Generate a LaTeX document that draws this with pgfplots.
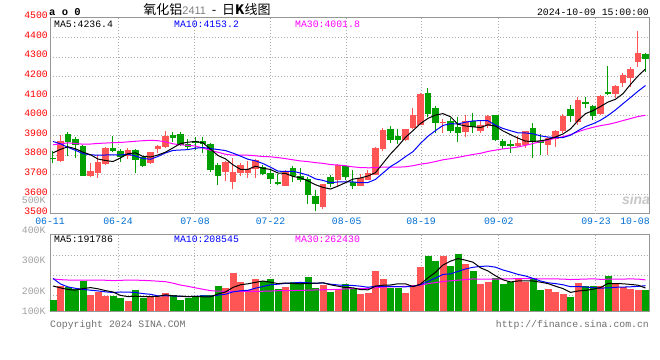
\documentclass[border=0pt]{standalone}
\usepackage{pgfplots}
\pgfplotsset{compat=1.18}
\usepackage{pgfplotstable}
\usepackage{fontspec}
\setmainfont{Liberation Mono}
\setmonofont{Liberation Mono}
\newfontfamily\cjk{Noto Sans CJK SC}
\newfontfamily\lsans{Liberation Sans}
\definecolor{upred}{RGB}{255,85,85}
\definecolor{dngreen}{RGB}{0,160,0}
\definecolor{maA}{RGB}{0,0,0}
\definecolor{maB}{RGB}{0,0,255}
\definecolor{maC}{RGB}{255,0,255}
\definecolor{gridc}{RGB}{170,170,170}
\definecolor{framec}{RGB}{150,150,150}
\definecolor{xlab}{RGB}{0,110,210}
\definecolor{vlab}{RGB}{160,160,160}
\definecolor{tickred}{RGB}{255,0,0}
\definecolor{foot}{RGB}{110,110,110}
\newcommand\monoS{\fontsize{9.8bp}{10bp}\selectfont\ttfamily}

\pgfplotstableread{
i O H L C V
0 3785 3822 3761 3781 88.3
1 3774 3903 3766 3872 208.0
2 3908 3918 3797 3872 199.4
3 3882 3894 3786 3853 182.3
4 3846 3851 3697 3697 250.7
5 3697 3761 3689 3718 131.1
6 3714 3800 3682 3761 156.7
7 3756 3843 3749 3836 122.5
8 3836 3897 3817 3826 122.5
9 3820 3831 3766 3791 105.4
10 3800 3838 3779 3826 79.8
11 3826 3831 3709 3780 173.8
12 3786 3791 3740 3745 105.4
13 3761 3817 3757 3812 122.5
14 3832 3851 3809 3843 114.0
15 3843 3925 3836 3897 148.1
16 3903 3916 3865 3889 131.1
17 3908 3920 3848 3856 88.3
18 3853 3885 3834 3846 105.4
19 3872 3891 3826 3863 122.5
20 3872 3891 3809 3860 131.1
21 3856 3863 3715 3728 131.1
22 3749 3761 3646 3694 208.0
23 3718 3771 3667 3761 190.9
24 3667 3788 3626 3711 319.1
25 3714 3762 3692 3745 242.2
26 3711 3771 3685 3728 173.8
27 3732 3783 3685 3774 267.8
28 3735 3749 3697 3709 250.7
29 3709 3723 3651 3679 267.8
30 3663 3706 3646 3655 182.3
31 3646 3723 3643 3718 199.4
32 3732 3744 3663 3697 242.2
33 3692 3737 3663 3675 242.2
34 3677 3689 3549 3600 284.9
35 3590 3621 3515 3556 190.9
36 3538 3655 3526 3651 216.5
37 3684 3697 3638 3655 156.7
38 3677 3754 3638 3749 182.3
39 3740 3749 3675 3689 225.1
40 3663 3723 3629 3646 182.3
41 3646 3706 3646 3680 139.6
42 3675 3726 3672 3706 148.1
43 3703 3843 3697 3834 336.2
44 3834 3937 3822 3928 267.8
45 3932 3949 3860 3882 190.9
46 3897 3932 3855 3882 190.9
47 3880 3935 3873 3930 148.1
48 3940 4039 3932 4005 216.5
49 3957 4116 3954 4108 370.4
50 4113 4142 3993 4014 464.4
51 4039 4051 3915 3966 421.7
52 3966 3983 3915 3968 464.4
53 3971 3988 3915 3925 378.9
54 3940 3997 3868 3915 481.5
55 3920 4005 3891 3971 396.0
56 3971 4014 3911 3945 336.2
57 3925 3976 3915 3949 225.1
58 3949 4005 3937 3997 242.2
59 4000 4005 3873 3880 276.4
60 3872 3885 3834 3848 225.1
61 3855 3877 3812 3850 242.2
62 3848 3897 3843 3860 267.8
63 3855 3925 3839 3920 242.2
64 3937 3962 3786 3872 276.4
65 3872 3908 3800 3865 173.8
66 3855 3894 3803 3885 182.3
67 3885 3928 3843 3923 156.7
68 3928 4009 3911 3997 139.6
69 4031 4056 3971 4000 114.0
70 3974 4099 3954 4077 233.6
71 4070 4099 4039 4063 208.0
72 4048 4056 3979 4000 208.0
73 4014 4108 4005 4102 208.0
74 4121 4253 4108 4113 293.4
75 4116 4159 4091 4149 225.1
76 4173 4219 4150 4205 199.4
77 4198 4248 4150 4236 182.3
78 4279 4432 4248 4318 173.8
79 4313 4321 4227 4291 173.8
}\kdata

\pgfplotstableread{
i ma5 ma10 ma30
0 3812 3870 3853
1 3830 3858 3858
2 3843 3840 3863
3 3833 3825 3860
4 3815.4 3808 3856
5 3802.4 3802 3857
6 3780.2 3800 3860
7 3773.0 3801 3862
8 3767.6 3802 3864
9 3786.4 3800.9 3865
10 3808.0 3805.2 3868
11 3811.8 3796.0 3871
12 3793.6 3783.3 3874
13 3790.8 3779.2 3876
14 3801.2 3793.8 3874
15 3815.4 3811.7 3868
16 3837.2 3824.5 3858
17 3859.4 3826.5 3853
18 3866.2 3828.5 3850
19 3870.2 3835.7 3847
20 3862.8 3839.1 3836
21 3830.6 3833.9 3825
22 3798.2 3828.8 3815
23 3781.2 3823.7 3805
24 3750.8 3810.5 3800
25 3727.8 3795.3 3800
26 3727.8 3779.2 3800
27 3743.8 3771.0 3797
28 3733.4 3757.3 3793
29 3727.0 3738.9 3791.8
30 3709.0 3718.4 3787.6
31 3707.0 3717.4 3782.4
32 3691.6 3717.7 3776.6
33 3684.8 3709.1 3770.7
34 3669.0 3698.0 3767.4
35 3649.2 3679.1 3762.0
36 3635.8 3671.4 3758.4
37 3627.4 3659.5 3752.3
38 3642.2 3663.5 3749.8
39 3660.0 3664.5 3746.4
40 3678.0 3663.6 3740.4
41 3683.8 3659.8 3737.0
42 3694.0 3660.7 3735.7
43 3711.0 3676.6 3736.5
44 3758.8 3709.4 3739.3
45 3806.0 3742.0 3738.8
46 3846.4 3765.1 3738.6
47 3891.2 3792.6 3741.0
48 3925.4 3818.2 3746.3
49 3961.4 3860.1 3754.5
50 3987.8 3896.9 3759.6
51 4004.6 3925.5 3767.6
52 4012.2 3951.7 3776.7
53 3996.2 3960.8 3782.2
54 3957.6 3959.5 3789.0
55 3949.0 3968.4 3796.5
56 3944.8 3974.7 3803.7
57 3941.0 3976.6 3809.6
58 3955.4 3975.8 3819.2
59 3948.4 3953.0 3825.9
60 3923.8 3936.4 3832.3
61 3904.8 3924.8 3836.7
62 3887.0 3914.0 3842.1
63 3871.6 3913.5 3850.3
64 3870.0 3909.2 3859.4
65 3873.4 3898.6 3869.7
66 3880.4 3892.6 3877.5
67 3893.0 3890.0 3886.4
68 3908.4 3890.0 3894.7
69 3934.0 3902.0 3905.0
70 3976.4 3924.9 3919.4
71 4012.0 3946.2 3932.2
72 4027.4 3960.2 3942.0
73 4048.4 3978.4 3950.9
74 4071.0 4002.5 3957.1
75 4085.4 4030.9 3966.0
76 4113.8 4062.9 3976.7
77 4161.0 4094.2 3986.9
78 4204.2 4126.3 3997.4
79 4239.8 4155.4 4003.5
}\madata

\pgfplotstableread{
i m5 m10 m30
0 208 273 268
1 192 225 262
2 178 200 259
3 173 188 259
4 185.7 179 259
5 194.3 172 259
6 184.0 166 259
7 168.7 158 257
8 156.7 152 254
9 127.6 156.7 256
10 117.4 155.8 259
11 120.8 152.4 258
12 117.4 143.0 256
13 117.4 137.0 253
14 119.1 123.4 249
15 132.8 125.1 245
16 124.2 122.5 232
17 120.8 119.1 216
18 117.4 117.4 205
19 119.1 119.1 192
20 115.7 124.2 180
21 115.7 120.0 168
22 139.6 130.2 164
23 156.7 137.1 162
24 196.0 157.6 162
25 218.3 167.0 162
26 226.8 171.2 162
27 238.8 189.2 162
28 250.7 203.7 163
29 240.5 218.3 164.7
30 228.5 223.4 167.8
31 233.6 230.2 167.5
32 228.5 233.6 169.0
33 226.8 238.8 170.9
34 230.2 235.3 172.1
35 231.9 230.2 174.1
36 235.3 234.5 176.1
37 218.2 223.4 177.2
38 206.3 216.5 179.2
39 194.3 212.3 183.2
40 192.6 212.3 186.6
41 177.2 206.3 185.5
42 175.5 196.9 186.9
43 206.3 206.3 194.0
44 214.8 204.6 199.1
45 216.5 204.6 200.6
46 226.8 202.0 202.6
47 226.8 201.1 204.6
48 202.8 204.6 208.3
49 223.4 219.1 216.5
50 278.1 247.3 227.6
51 324.2 275.5 237.3
52 387.5 307.1 245.9
53 420.0 311.4 252.1
54 442.2 332.8 257.6
55 428.5 353.3 262.7
56 411.4 367.8 268.1
57 363.5 375.5 266.7
58 336.2 378.1 266.4
59 295.2 368.7 266.7
60 261.0 344.8 268.1
61 242.2 326.8 269.5
62 250.7 307.1 270.4
63 250.7 293.5 270.4
64 250.7 273.0 270.1
65 240.5 250.7 269.5
66 228.5 235.4 268.4
67 206.3 228.5 268.4
68 185.8 218.3 267.0
69 153.3 202.0 263.3
70 165.2 202.9 265.0
71 170.4 199.4 267.2
72 180.6 193.5 269.2
73 194.3 190.0 265.0
74 230.2 191.7 265.8
75 228.5 196.9 267.0
76 226.8 198.6 267.2
77 221.6 201.1 268.4
78 214.8 204.6 267.0
79 190.9 210.5 260.4
}\vmadata

\begin{document}
\begin{tikzpicture}
\path[use as bounding box] (0,0) rectangle (660bp,360bp);
% ---------------- main price panel ----------------
\begin{axis}[
  at={(50bp,146bp)}, anchor=south west,
  scale only axis, width=599bp, height=196bp,
  xmin=-0.4, xmax=79.47, ymin=3500, ymax=4500,
  axis line style={draw=framec, line width=1bp},
  ytick={3500,3600,3700,3800,3900,4000,4100,4200,4300,4400,4500},
  yticklabels={3500,3600,3700,3800,3900,4000,4100,4200,4300,4400,4500},
  ymajorgrids,
  grid style={draw=gridc, line width=1bp, dash pattern=on 1bp off 2bp},
  xtick={-0.4,8.67,18.93,29.0,39.16,49.07,59.43,72.4,77.6},
  xticklabels={06-11,06-24,07-08,07-22,08-05,08-19,09-02,09-23,10-08},
  extra x ticks={8.67,18.93,29.0,39.16,49.07,59.43,72.4},
  extra x tick labels={},
  extra x tick style={grid=major},
  major tick length=0pt, tick style={draw=none},
  xticklabel style={font=\monoS, text=xlab, inner sep=1bp, yshift=-3bp},
  yticklabel style={font=\monoS, text=tickred, inner sep=2bp, yshift=2.5bp},
]
\pgfplotstablegetrowsof{\kdata}
\pgfmathtruncatemacro\lastrow{\pgfplotsretval-1}
\pgfplotsforeachungrouped \rowi in {0,...,\lastrow}{%
  \pgfplotstablegetelem{\rowi}{O}\of\kdata\edef\vO{\pgfplotsretval}%
  \pgfplotstablegetelem{\rowi}{H}\of\kdata\edef\vH{\pgfplotsretval}%
  \pgfplotstablegetelem{\rowi}{L}\of\kdata\edef\vL{\pgfplotsretval}%
  \pgfplotstablegetelem{\rowi}{C}\of\kdata\edef\vC{\pgfplotsretval}%
  \ifdim\vC pt<\vO pt \def\cc{dngreen}\else\def\cc{upred}\fi
  \pgfmathsetmacro\xa{\rowi-0.34}\pgfmathsetmacro\xb{\rowi+0.34}%
  \edef\doplot{\noexpand\addplot[draw=\cc, line width=1bp, forget plot] coordinates {(\rowi,\vL) (\rowi,\vH)};
    \noexpand\addplot[fill=\cc, draw=\cc, line width=1bp, forget plot] coordinates {(\xa,\vO) (\xb,\vO) (\xb,\vC) (\xa,\vC)} --cycle;}%
  \doplot
}
\addplot[maC, line width=1bp] table[x=i, y=ma30]{\madata};
\addplot[maB, line width=1bp] table[x=i, y=ma10]{\madata};
\addplot[maA, line width=1bp] table[x=i, y=ma5]{\madata};
\end{axis}
% ---------------- volume panel ----------------
\begin{axis}[
  at={(50bp,49bp)}, anchor=south west,
  scale only axis, width=599bp, height=76.7bp,
  xmin=-0.4, xmax=79.47, ymin=-5.7, ymax=649.6,
  axis line style={draw=framec, line width=1bp},
  ytick={125.1,296.0,466.9}, yticklabels={},
  xtick={8.67,18.93,29.0,39.16,49.07,59.43,72.4}, xticklabels={},
  xmajorgrids, ymajorgrids,
  grid style={draw=gridc, line width=1bp, dash pattern=on 1bp off 2bp},
  major tick length=0pt, tick style={draw=none},
]
\pgfplotstablegetrowsof{\kdata}
\pgfmathtruncatemacro\lastrow{\pgfplotsretval-1}
\pgfplotsforeachungrouped \rowi in {0,...,\lastrow}{%
  \pgfplotstablegetelem{\rowi}{O}\of\kdata\edef\vO{\pgfplotsretval}%
  \pgfplotstablegetelem{\rowi}{C}\of\kdata\edef\vC{\pgfplotsretval}%
  \pgfplotstablegetelem{\rowi}{V}\of\kdata\edef\vV{\pgfplotsretval}%
  \ifdim\vC pt<\vO pt \def\cc{dngreen}\else\def\cc{upred}\fi
  \pgfmathsetmacro\xa{\rowi-0.37}\pgfmathsetmacro\xb{\rowi+0.37}%
  \edef\doplot{\noexpand\addplot[fill=\cc, draw=\cc, line width=0.5bp, forget plot] coordinates {(\xa,0) (\xb,0) (\xb,\vV) (\xa,\vV)} --cycle;}%
  \doplot
}
\addplot[maC, line width=1bp] table[x=i, y=m30]{\vmadata};
\addplot[maB, line width=1bp] table[x=i, y=m10]{\vmadata};
\addplot[maA, line width=1bp] table[x=i, y=m5]{\vmadata};
\end{axis}
% ---------------- texts ----------------
\node[anchor=base west, inner sep=0pt, font=\fontsize{10.5bp}{11bp}\selectfont\ttfamily\bfseries] at (49bp,344.5bp) {a o 0};
\node[anchor=base, inner sep=0pt] at (207bp,345bp) {\fontsize{13bp}{14bp}\selectfont\cjk 氧化铝{\lsans\fontsize{11bp}{12bp}\selectfont\color{gray}2411}\ \ -\ \ 日\textbf{K}线图};
\node[anchor=base east, inner sep=0pt, font=\monoS] at (649bp,344.5bp) {2024-10-09 15:00:00};
% main legend
\node[anchor=base west, inner sep=0pt, font=\monoS, text=maA] at (54bp,332.5bp) {MA5:4236.4};
\node[anchor=base west, inner sep=0pt, font=\monoS, text=maB] at (174bp,332.5bp) {MA10:4153.2};
\node[anchor=base west, inner sep=0pt, font=\monoS, text=maC] at (295bp,332.5bp) {MA30:4001.8};
% volume legend
\node[anchor=base west, inner sep=0pt, font=\monoS, text=maA] at (54bp,117.5bp) {MA5:191786};
\node[anchor=base west, inner sep=0pt, font=\monoS, text=maB] at (174bp,117.5bp) {MA10:208545};
\node[anchor=base west, inner sep=0pt, font=\monoS, text=maC] at (295bp,117.5bp) {MA30:262430};
% volume scale labels
\node[anchor=base east, inner sep=0pt, font=\monoS, text=vlab] at (45.7bp,156.5bp) {500K};
\node[anchor=base east, inner sep=0pt, font=\monoS, text=vlab] at (45.7bp,126.5bp) {400K};
\node[anchor=base east, inner sep=0pt, font=\monoS, text=vlab] at (45.7bp,96.5bp) {300K};
\node[anchor=base east, inner sep=0pt, font=\monoS, text=vlab] at (45.7bp,65.8bp) {200K};
\node[anchor=base east, inner sep=0pt, font=\monoS, text=vlab] at (45.7bp,45.5bp) {100K};
% footer
\node[anchor=base west, inner sep=0pt, font=\monoS, text=foot] at (50bp,32.5bp) {Copyright 2024 SINA.COM};
\node[anchor=base east, inner sep=0pt, font=\monoS, text=foot] at (649bp,32.5bp) {http://finance.sina.com.cn};
% watermark
\node[anchor=base, inner sep=0pt, text=black!22, font=\lsans\fontsize{14bp}{14bp}\selectfont\bfseries\itshape] at (636bp,155bp) {sina};
\end{tikzpicture}
\end{document}
